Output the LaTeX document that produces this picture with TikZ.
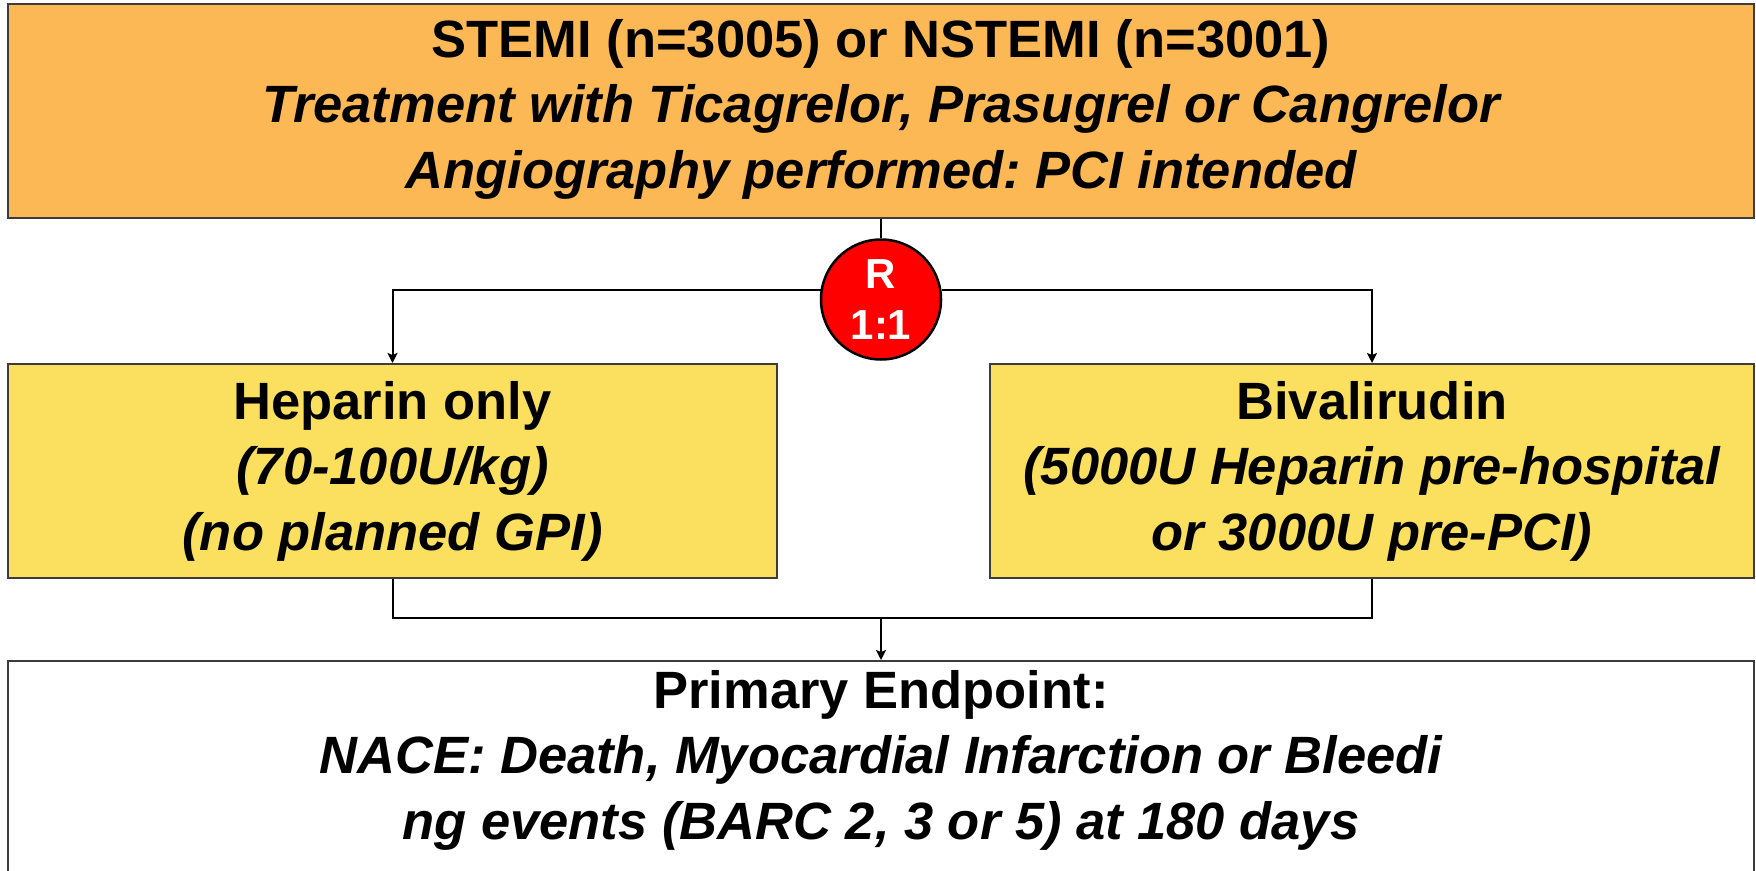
\documentclass[tikz,border=0pt]{standalone}
\usepackage{fontspec}
\setmainfont{Liberation Sans}
\usetikzlibrary{arrows.meta}
\frenchspacing
\definecolor{topor}{HTML}{FDB856}
\definecolor{armyel}{HTML}{FAE05E}
\definecolor{boxline}{HTML}{3C3C3C}
\definecolor{rred}{HTML}{FF0000}
\tikzset{
  bigtext/.style={font=\fontsize{52.5}{65.5}\selectfont\bfseries\frenchspacing, align=center, text=black},
  boxbase/.style={draw=boxline, line width=2pt, rectangle, inner sep=0pt},
  topbox/.style={boxbase, fill=topor, minimum width=1746pt, minimum height=214pt},
  armbox/.style={boxbase, fill=armyel, minimum width=769pt, minimum height=214pt},
  endbox/.style={boxbase, fill=white, minimum width=1746pt, minimum height=240pt},
  randc/.style={circle, draw=black, line width=2.5pt, fill=rred, minimum size=120pt, inner sep=0pt,
    text=white, font=\fontsize{42}{51}\selectfont\bfseries, align=center},
  conn/.style={draw=black, line width=2pt},
  arr/.style={conn, -{Stealth[length=10pt, width=10pt, inset=2pt]}}
}
\begin{document}
\begin{tikzpicture}[x=1pt, y=-1pt]
\useasboundingbox (0,0) rectangle (1756,870);
\clip (0,0) rectangle (1756,870);
\fill[white] (0,0) rectangle (1756,870);
\node[topbox] (top) at (881,111) {};
\node[bigtext] (toptxt) at (881,109) {STEMI (n=3005) or NSTEMI (n=3001)\\ \itshape Treatment with Ticagrelor, Prasugrel or Cangrelor\\ \itshape Angiography performed: PCI intended};
\node[armbox] (hep) at (392.5,471) {};
\node[bigtext] (heptxt) at (392.5,471) {Heparin only\\ \itshape (70-100U/kg)\\ \itshape (no planned GPI)};
\node[armbox, minimum width=764pt] (biv) at (1372,471) {};
\node[bigtext] (bivtxt) at (1372,471) {Bivalirudin\\ \itshape (5000U Heparin pre-hospital\\ \itshape or 3000U pre-PCI)};
\node[endbox, anchor=north] (endp) at (881,660) {};
\node[bigtext] (endtxt) at (881,760) {Primary Endpoint:\\ \itshape NACE: Death, Myocardial Infarction or Bleedi\\ \itshape ng events (BARC 2, 3 or 5) at 180 days};
\node[randc] (rnd) at (881,299.5) {R\\1:1};
\draw[conn] (top.south) -- (rnd.north);
\draw[arr] (rnd.171) -| (hep.north);
\draw[arr] (rnd.9) -| (biv.north);
\coordinate (mrg) at (881,618);
\draw[conn] (hep.south) |- (mrg) -| (biv.south);
\draw[arr] (mrg) -- (endp.north);
\end{tikzpicture}
\end{document}
